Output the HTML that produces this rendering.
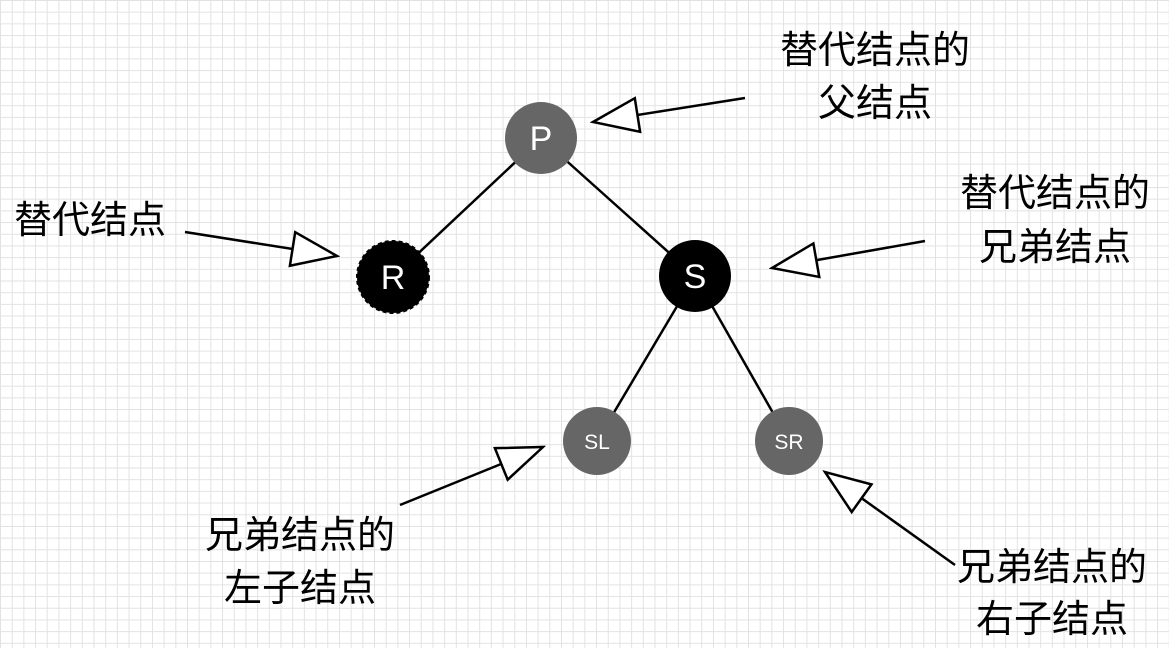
<!DOCTYPE html>
<html><head><meta charset="utf-8"><style>
html,body{margin:0;padding:0;}
body{width:1169px;height:648px;overflow:hidden;background-color:#fff;
background-image:linear-gradient(#e2e2e2 1px,transparent 1px),linear-gradient(90deg,#e2e2e2 1px,transparent 1px);
background-size:11.7px 11.7px;}
svg{position:absolute;left:0;top:0;}
text{font-family:"Liberation Sans","Noto Sans CJK SC",sans-serif;}
</style></head><body>
<svg width="1169" height="648" viewBox="0 0 1169 648">
<g stroke="#000" stroke-width="2.5">
<line x1="541" y1="138" x2="393" y2="277"/>
<line x1="541" y1="138" x2="695" y2="276"/>
<line x1="695" y1="276" x2="597" y2="441"/>
<line x1="695" y1="276" x2="789" y2="441"/>
</g>
<circle cx="541" cy="138" r="36" fill="#666"/>
<circle cx="393" cy="277" r="36" fill="#000" stroke="#000" stroke-width="2" stroke-dasharray="4 3"/>
<circle cx="695" cy="276" r="36" fill="#000"/>
<circle cx="597" cy="441" r="34" fill="#666"/>
<circle cx="789" cy="441" r="34" fill="#666"/>
<g fill="#fff" text-anchor="middle" font-size="34">
<text x="541" y="150">P</text>
<text x="393" y="289">R</text>
<text x="695" y="288">S</text>
<text x="597" y="449" font-size="21">SL</text>
<text x="789" y="449" font-size="21">SR</text>
</g>
<defs>
<marker id="h" markerWidth="50" markerHeight="40" refX="47" refY="20" orient="auto" markerUnits="userSpaceOnUse">
<path d="M2,3 L47,20 L2,37 Z" fill="#fff" stroke="#000" stroke-width="2.5"/>
</marker>
</defs>
<g stroke="#000" stroke-width="2.5" fill="none">
<line x1="745" y1="98" x2="593" y2="122" marker-end="url(#h)"/>
<line x1="185" y1="232" x2="337" y2="256" marker-end="url(#h)"/>
<line x1="925" y1="241" x2="772" y2="268" marker-end="url(#h)"/>
<line x1="400" y1="505" x2="543" y2="447" marker-end="url(#h)"/>
<line x1="955" y1="565" x2="825" y2="472" marker-end="url(#h)"/>
</g>
<g fill="#000" font-size="38" text-anchor="middle">
<text x="875" y="63">替代结点的</text>
<text x="875" y="116">父结点</text>
<text x="90" y="233">替代结点</text>
<text x="1055" y="206">替代结点的</text>
<text x="1055" y="260">兄弟结点</text>
<text x="300" y="548">兄弟结点的</text>
<text x="300" y="601">左子结点</text>
<text x="1052" y="580">兄弟结点的</text>
<text x="1052" y="632">右子结点</text>
</g>
</svg>
</body></html>
